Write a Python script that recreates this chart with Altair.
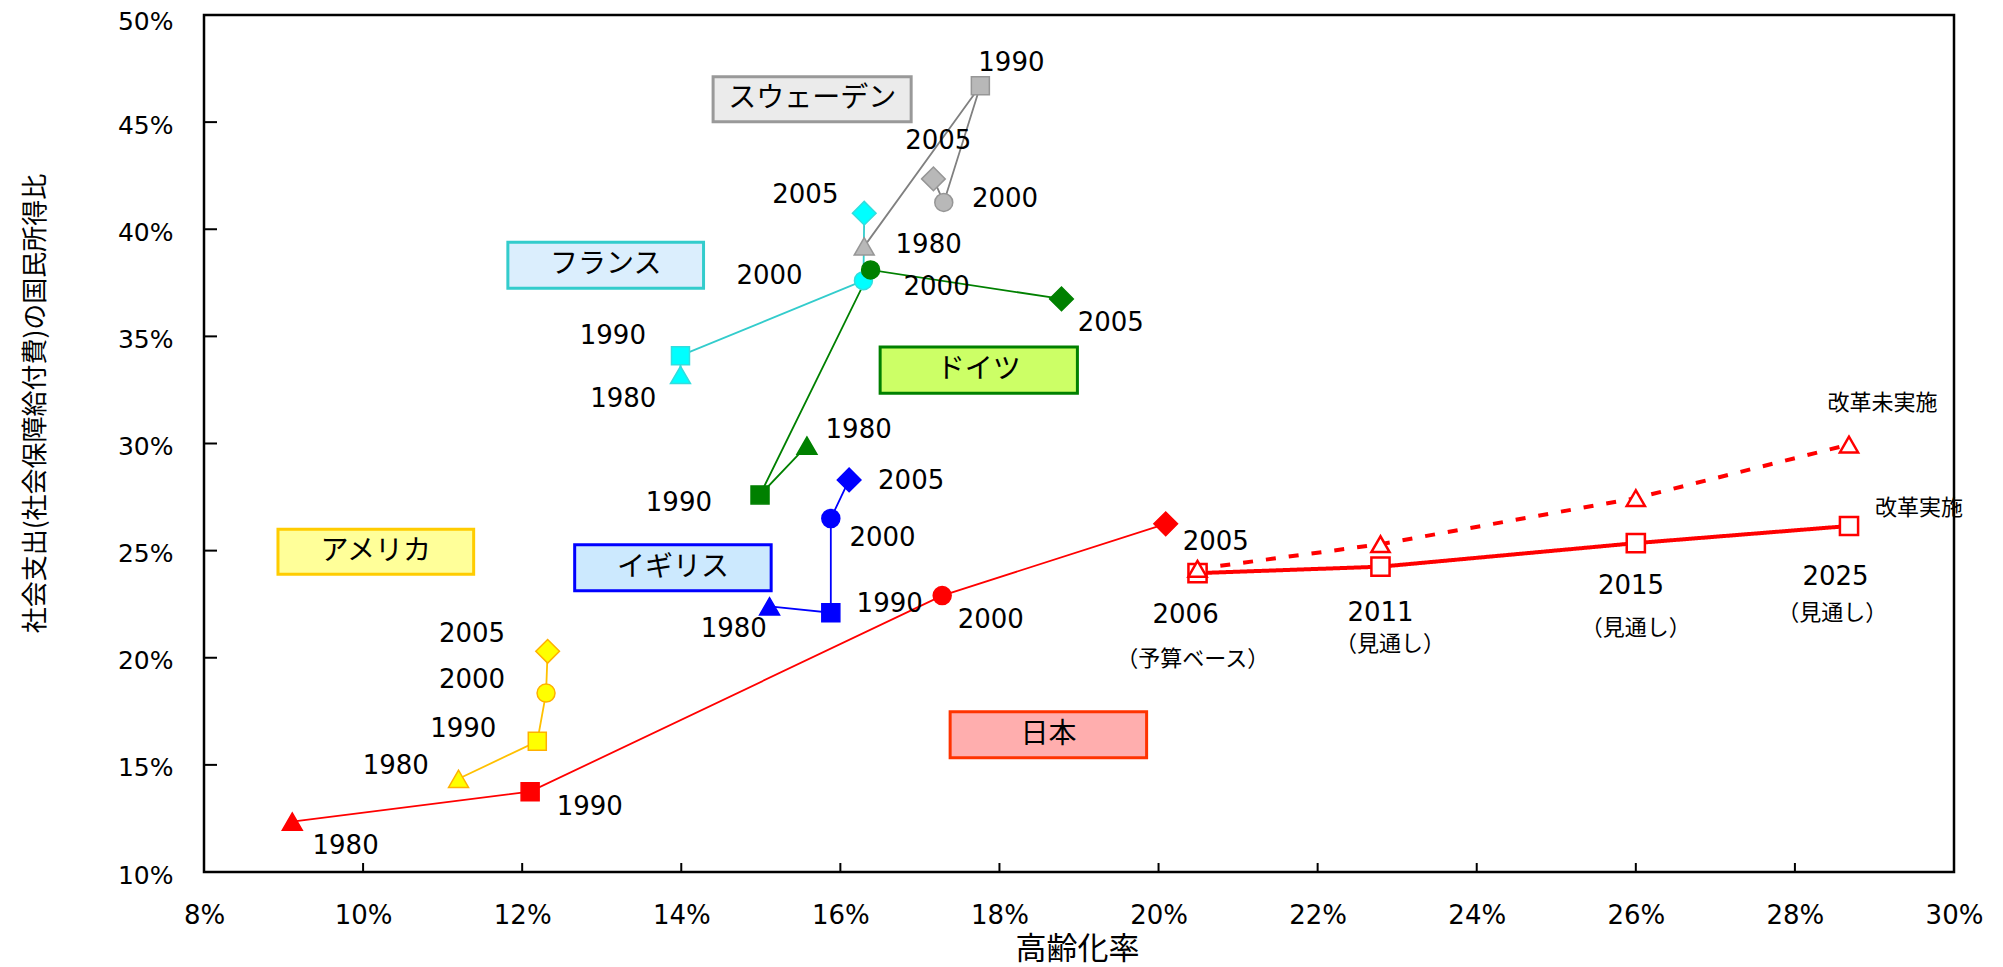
import altair as alt
import pandas as pd

# ---------------- data ----------------
countries = ["スウェーデン", "フランス", "ドイツ", "イギリス", "アメリカ", "日本"]
years = [1980, 1990, 2000, 2005]

# aging rate (%) per year 1980, 1990, 2000, 2005
sweden_aging = [16.30, 17.76, 17.30, 17.17]
france_aging = [13.99, 13.99, 16.29, 16.30]
germany_aging = [15.58, 14.99, 16.38, 18.78]
uk_aging = [15.11, 15.88, 15.88, 16.11]
usa_aging = [11.20, 12.19, 12.30, 12.32]
japan_aging = [9.11, 12.10, 17.28, 20.09]

# social expenditure / national income (%)
sweden_social = [39.2, 46.7, 41.25, 42.35]
france_social = [33.2, 34.1, 37.6, 40.75]
germany_social = [29.9, 27.6, 38.1, 36.75]
uk_social = [22.4, 22.1, 26.5, 28.3]
usa_social = [14.35, 16.1, 18.35, 20.3]
japan_social = [12.35, 13.75, 22.9, 26.25]

# Japan projections
proj_years = [2006, 2011, 2015, 2025]
proj_aging = [20.49, 22.79, 26.0, 28.68]
reform_social = [23.95, 24.25, 25.35, 26.15]      # 改革実施
noreform_social = [24.15, 25.3, 27.45, 29.95]     # 改革未実施

# year labels
year_label_text = ["1990", "2005", "2000", "1980",
                   "2005", "2000", "1990", "1980",
                   "2000", "2005", "1980", "1990",
                   "2005", "2000", "1990", "1980",
                   "2005", "2000", "1990", "1980",
                   "1980", "1990", "2000", "2005",
                   "2006", "2011", "2015", "2025"]
year_label_x = [18.15, 17.23, 18.07, 17.11,
                15.56, 15.11, 13.14, 13.27,
                17.21, 19.40, 16.23, 13.97,
                16.89, 16.53, 16.62, 14.66,
                11.37, 11.37, 11.26, 10.41,
                9.78, 12.85, 17.89, 20.72,
                20.34, 22.79, 25.94, 28.51]
year_label_y = [47.75, 44.1, 41.42, 39.27,
                41.60, 37.83, 35.04, 32.06,
                37.30, 35.62, 30.63, 27.23,
                28.25, 25.57, 22.53, 21.33,
                21.10, 18.95, 16.69, 14.96,
                11.20, 13.05, 21.75, 25.39,
                22.0, 22.1, 23.36, 23.75]

# annotation labels
note_text = ["（予算ベース）", "（見通し）", "（見通し）", "（見通し）", "改革未実施", "改革実施"]
note_x = [20.43, 22.91, 26.0, 28.47, 29.10, 29.56]
note_y = [19.93, 20.64, 21.39, 22.10, 31.88, 27.0]

# country name boxes (aging range, social range)
box_x1 = [14.40, 11.82, 16.50, 12.66, 8.93, 17.38]
box_x2 = [16.89, 14.28, 18.98, 15.13, 11.39, 19.85]
box_y1 = [45.02, 37.25, 32.35, 23.13, 23.90, 15.33]
box_y2 = [47.12, 39.39, 34.50, 25.27, 26.00, 17.48]

xticks = [8, 10, 12, 14, 16, 18, 20, 22, 24, 26, 28, 30]
yticks = [10, 15, 20, 25, 30, 35, 40, 45, 50]

# ---------------- styles ----------------
line_color = {"スウェーデン": "#808080", "フランス": "#33cccc", "ドイツ": "#008000",
              "イギリス": "#0000ff", "アメリカ": "#ffc000", "日本": "#ff0000"}
marker_fill = {"スウェーデン": "#b8b8b8", "フランス": "#00ffff", "ドイツ": "#008000",
               "イギリス": "#0000ff", "アメリカ": "#ffff00", "日本": "#ff0000"}
marker_stroke = {"スウェーデン": "#969696", "フランス": "#33dddd", "ドイツ": "#008000",
                 "イギリス": "#0000ff", "アメリカ": "#ffb000", "日本": "#ff0000"}
box_fill = {"スウェーデン": "#ebebeb", "フランス": "#dbeefd", "ドイツ": "#ccff66",
            "イギリス": "#cce9fe", "アメリカ": "#ffff99", "日本": "#ffaeae"}
box_stroke = {"スウェーデン": "#999999", "フランス": "#33cccc", "ドイツ": "#008000",
              "イギリス": "#0000ff", "アメリカ": "#ffcc00", "日本": "#ff3300"}
year_shape = {1980: "triangle-up", 1990: "square", 2000: "circle", 2005: "diamond"}
year_size = {1980: 400, 1990: 324, 2000: 324, 2005: 560}

# ---------------- tables ----------------
aging_lists = [sweden_aging, france_aging, germany_aging, uk_aging, usa_aging, japan_aging]
social_lists = [sweden_social, france_social, germany_social, uk_social, usa_social, japan_social]
rows = []
for c, xs, ys in zip(countries, aging_lists, social_lists):
    for yr, xv, yv in zip(years, xs, ys):
        rows.append({"country": c, "year": yr, "x": xv, "y": yv,
                     "lc": line_color[c], "fc": marker_fill[c], "sc": marker_stroke[c],
                     "shape": year_shape[yr], "size": year_size[yr]})
df = pd.DataFrame(rows)

prow = []
for yr, xv, a, b in zip(proj_years, proj_aging, reform_social, noreform_social):
    prow.append({"series": "改革実施", "year": yr, "x": xv, "y": a, "shape": "square"})
    prow.append({"series": "改革未実施", "year": yr, "x": xv, "y": b, "shape": "triangle-up"})
pdf = pd.DataFrame(prow)

bdf = pd.DataFrame({"name": countries, "x": box_x1, "x2": box_x2, "y": box_y1, "y2": box_y2})
bdf["fc"] = bdf["name"].map(box_fill)
bdf["sc"] = bdf["name"].map(box_stroke)
bdf["xc"] = (bdf["x"] + bdf["x2"]) / 2
bdf["yc"] = (bdf["y"] + bdf["y2"]) / 2

ydf = pd.DataFrame({"label": year_label_text, "x": year_label_x, "y": year_label_y})
ndf = pd.DataFrame({"label": note_text, "x": note_x, "y": note_y})
ytick_df = pd.DataFrame({"y": yticks[1:-1]})
xtick_df = pd.DataFrame({"x": xticks[1:-1]})

# ---------------- scales / axes ----------------
W, H = 1750, 857
xscale = alt.Scale(domain=[8, 30], nice=False, zero=False)
yscale = alt.Scale(domain=[10, 50], nice=False, zero=False)
xaxis = alt.Axis(values=xticks, labelExpr="datum.value + '%'", labelFont="DejaVu Sans",
                 labelFontSize=26, labelColor="black", labelPadding=30, labelFlush=False,
                 labelOverlap=False, ticks=False, domain=False, grid=False,
                 title="高齢化率", titleFont="Noto Sans CJK JP", titleFontSize=31,
                 titleFontWeight="normal", titleColor="black", titleX=873, titleY=77,
                 titleAlign="center", titleBaseline="middle")
yaxis = alt.Axis(values=yticks, labelExpr="datum.value + '%'", labelFont="DejaVu Sans",
                 labelFontSize=25, labelColor="black", labelPadding=31,
                 labelOffset={"condition": {"test": "datum.value == 50", "value": 6}, "value": 3},
                 labelFlush=False, labelOverlap=False, ticks=False, domain=False, grid=False,
                 title="社会支出(社会保障給付費)の国民所得比", titleFont="Noto Sans CJK JP",
                 titleFontSize=26, titleFontWeight="normal", titleColor="black",
                 titleAngle=270, titleX=-169, titleY=388, titleAlign="center",
                 titleBaseline="middle")


def X(f="x"):
    return alt.X(f + ":Q", scale=xscale, axis=xaxis)


def Y(f="y"):
    return alt.Y(f + ":Q", scale=yscale, axis=yaxis)


boxes = alt.Chart(bdf).mark_rect(strokeWidth=3).encode(
    x=X(), x2="x2:Q", y=Y(), y2="y2:Q",
    fill=alt.Fill("fc:N", scale=None), stroke=alt.Stroke("sc:N", scale=None))
box_text = alt.Chart(bdf).mark_text(font="Noto Sans CJK JP", fontSize=28, color="black",
                                    align="center", baseline="middle").encode(
    x=X("xc"), y=Y("yc"), text="name:N")

lines = alt.Chart(df).mark_line(strokeWidth=1.8).encode(
    x=X(), y=Y(), detail="country:N", color=alt.Color("lc:N", scale=None),
    order=alt.Order("year:Q"))
points = alt.Chart(df).mark_point(filled=True, opacity=1, strokeWidth=1.5).encode(
    x=X(), y=Y(), fill=alt.Fill("fc:N", scale=None), stroke=alt.Stroke("sc:N", scale=None),
    shape=alt.Shape("shape:N", scale=None), size=alt.Size("size:Q", scale=None))

proj_lines = alt.Chart(pdf).mark_line(color="#ff0000", strokeWidth=4).encode(
    x=X(), y=Y(), detail="series:N",
    strokeDash=alt.StrokeDash("series:N", scale=alt.Scale(domain=["改革実施", "改革未実施"],
                                                          range=[[1, 0], [10, 13]]), legend=None),
    order=alt.Order("year:Q"))
proj_points = alt.Chart(pdf).mark_point(filled=False, opacity=1, strokeWidth=2.5, size=330).encode(
    x=X(), y=Y(), fill=alt.value("white"), stroke=alt.value("#ff0000"),
    shape=alt.Shape("shape:N", scale=None))

year_text = alt.Chart(ydf).mark_text(font="DejaVu Sans", fontSize=26, color="black",
                                     align="center", baseline="middle").encode(
    x=X(), y=Y(), text="label:N")
note_txt = alt.Chart(ndf).mark_text(font="Noto Sans CJK JP", fontSize=22, color="black",
                                    align="center", baseline="middle").encode(
    x=X(), y=Y(), text="label:N")

ytick_rules = alt.Chart(ytick_df).mark_rule(color="black", strokeWidth=2).encode(
    y=Y(), x=alt.value(0), x2=alt.value(13))
xtick_rules = alt.Chart(xtick_df).mark_rule(color="black", strokeWidth=2).encode(
    x=X(), y=alt.value(H - 9), y2=alt.value(H))

chart = alt.layer(
    boxes, box_text, lines, proj_lines, points, proj_points, year_text, note_txt,
    ytick_rules, xtick_rules
).properties(
    width=W, height=H,
    autosize=alt.AutoSizeParams(type="none"),
    padding={"left": 196, "top": 7, "right": 35, "bottom": 95},
    background="white",
).configure_view(stroke="black", strokeWidth=2.5)

chart.save("out.html", embed_options={"renderer": "svg", "actions": False})
